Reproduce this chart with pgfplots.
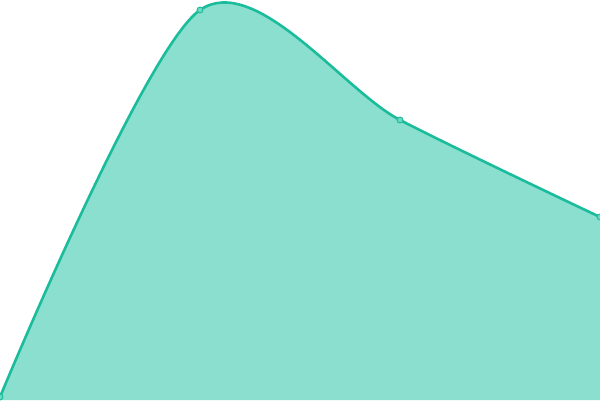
\documentclass[border=0pt]{standalone}
\usepackage{pgfplots}
\pgfplotsset{compat=1.18}
\definecolor{line}{HTML}{1ABC9C}
\definecolor{area}{HTML}{8BDFCE}
\definecolor{mk}{HTML}{6BD8C2}
\begin{document}
\begin{tikzpicture}
\begin{axis}[name=ax, hide axis, scale only axis, width=600bp, height=400bp,
  xmin=0, xmax=600, ymin=0, ymax=400, clip=true]
\addplot[draw=none, fill=area, smooth, tension=0.5] coordinates {(0,3) (200,390) (400,280) (600,183)} \closedcycle;
\addplot[line, line width=2.6bp, smooth, tension=0.5, mark=*, mark size=3bp,
  mark options={fill=mk, draw=line, line width=0.9bp}] coordinates {(0,3) (200,390) (400,280) (600,183)};
\end{axis}
\pgfresetboundingbox
\path[use as bounding box] (ax.south west) rectangle (ax.north east);
\end{tikzpicture}
\end{document}
